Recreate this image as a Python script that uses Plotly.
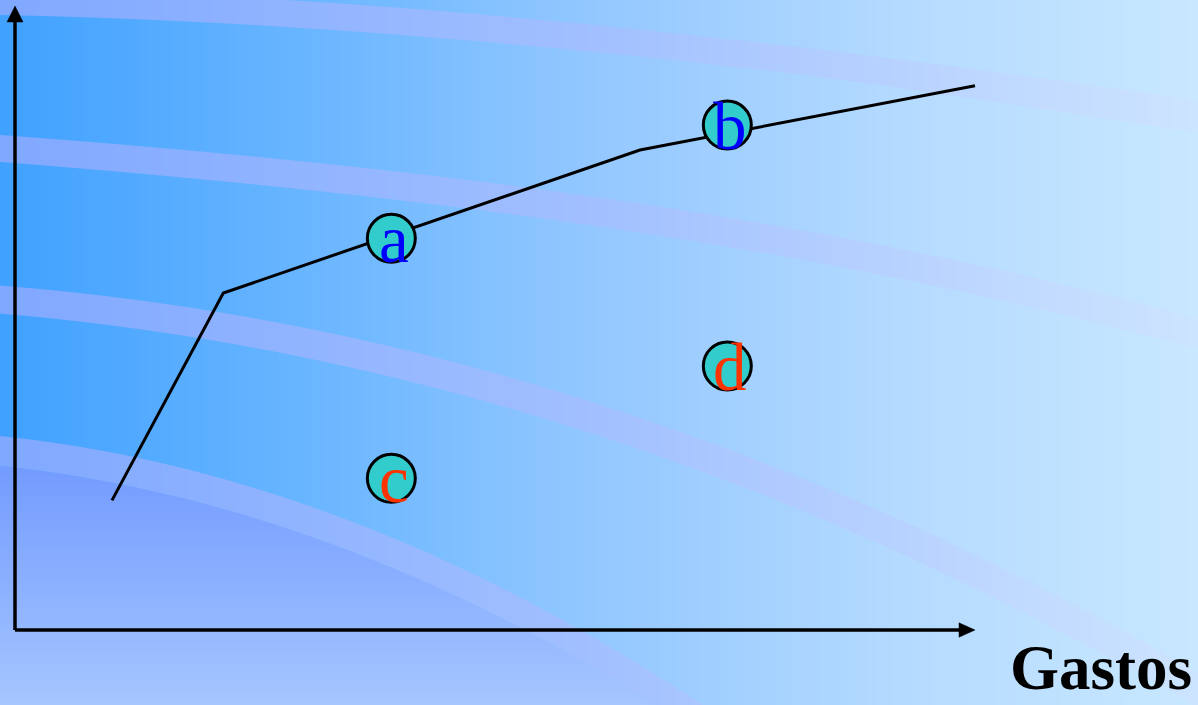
import base64
import struct
import zlib

import numpy as np
import plotly.graph_objects as go

W, H = 1198, 705

# Curve of results against spending (kink points)
curve_x = [1.01, 2.17, 6.51, 10.0]
curve_y = [1.35, 3.51, 5.0, 5.67]

# Labelled situations
point_labels = ["a", "b", "c", "d"]
point_x = [3.92, 7.42, 3.92, 7.42]
point_y = [4.08, 5.26, 1.58, 2.75]
label_colors = ["#0000ff", "#0000ff", "#ff3300", "#ff3300"]

axis_title = "Gastos"

# ---- axis frame: 96 px per unit, origin 15 px from left, 75 px from bottom
PX = 96.0
X_RANGE = [-15 / PX, (W - 15) / PX]
Y_RANGE = [-(H - 630) / PX, 630 / PX]


# ---- decorative background (horizontal gradient with soft curved bands)
def background_uri():
    xs = np.arange(W, dtype=float)
    ys = np.arange(H, dtype=float)[:, None]

    def ramp(px, vals):
        return np.interp(xs, px, vals)

    def edge(px, py, deg=3):
        return np.polyval(np.polyfit(px, py, deg), xs)

    img = np.zeros((H, W, 3))
    img[..., 0] = ramp([0, 300, 600, 900, 1197], [64, 104, 148, 180, 200])
    img[..., 1] = ramp([0, 300, 600, 900, 1197], [161, 181, 200, 218, 232])
    img[..., 2] = 255

    band = np.stack([ramp([0, 600, 1197], [128, 162, 205]),
                     ramp([0, 600, 1197], [168, 192, 228]),
                     np.full(W, 255.0)], axis=-1)[None, :, :]

    def cover(top, bottom):
        a = np.clip(np.minimum(ys + 1, bottom[None, :]) - np.maximum(ys, top[None, :]), 0, 1)
        return a[..., None]

    def paint(top, thick, color):
        nonlocal img
        bottom = top + thick
        c = cover(top, bottom)
        img = img * (1 - c) + color * c

    paint(edge([0, 400, 800, 900, 1197], [-12, 8, 47, 60, 100]),
          ramp([0, 800, 1197], [27, 27, 33]), band)
    paint(edge([0, 400, 800, 1197], [135, 172, 230, 318]),
          ramp([0, 1197], [27, 31]), band)
    paint(edge([0, 80, 260, 400, 733, 900, 1000, 1197],
               [285, 293, 320, 352, 443, 522, 573, 670]),
          ramp([0, 1197], [28, 35]), band)

    top4 = edge([0, 80, 260, 400, 550, 700], [435, 448, 490, 543, 610, 705], 2)
    low4 = top4 + 30
    region = np.zeros((H, W, 3))
    t = np.clip((ys - 470) / (705 - 470), 0, 1)
    region[..., 0] = 116 + t * (165 - 116)
    region[..., 1] = 156 + t * (198 - 156)
    region[..., 2] = 255
    c = np.clip(ys + 1 - low4[None, :], 0, 1)[..., None]
    img = img * (1 - c) + region * c
    paint(top4, np.full(W, 30.0), band)

    arr = np.clip(np.round(img), 0, 255).astype(np.uint8)
    raw = b"".join(b"\x00" + arr[i].tobytes() for i in range(H))

    def chunk(tag, data):
        return (struct.pack(">I", len(data)) + tag + data
                + struct.pack(">I", zlib.crc32(tag + data) & 0xFFFFFFFF))

    png = (b"\x89PNG\r\n\x1a\n"
           + chunk(b"IHDR", struct.pack(">IIBBBBB", W, H, 8, 2, 0, 0, 0))
           + chunk(b"IDAT", zlib.compress(raw, 9))
           + chunk(b"IEND", b""))
    return "data:image/png;base64," + base64.b64encode(png).decode()


fig = go.Figure()

fig.add_trace(go.Scatter(
    x=curve_x, y=curve_y, mode="lines",
    line=dict(color="black", width=3),
    hoverinfo="skip", showlegend=False,
))

fig.add_trace(go.Scatter(
    x=point_x, y=point_y, mode="markers",
    marker=dict(size=48, color="#33cccc", line=dict(color="black", width=3)),
    hoverinfo="skip", showlegend=False,
))

for lab, px, py, col in zip(point_labels, point_x, point_y, label_colors):
    fig.add_annotation(
        x=px, y=py, text=lab, showarrow=False,
        xanchor="center", yanchor="middle", xshift=3, yshift=-1,
        font=dict(family="Liberation Serif", size=67, color=col),
    )

# axes with arrow heads
x_tip, y_tip = (975 - 15) / PX, (630 - 6) / PX
head = 16 / PX
half = 8 / PX
fig.add_shape(type="line", x0=0, y0=0, x1=0, y1=y_tip - head + 0.02,
              line=dict(color="black", width=3.5))
fig.add_shape(type="line", x0=0, y0=0, x1=x_tip - head + 0.02, y1=0,
              line=dict(color="black", width=3.5))
fig.add_shape(type="path",
              path=f"M {-half} {y_tip - head} L 0 {y_tip} L {half} {y_tip - head} Z",
              fillcolor="black", line=dict(color="black", width=0.5))
fig.add_shape(type="path",
              path=f"M {x_tip - head} {-half * 0.9} L {x_tip} 0 L {x_tip - head} {half * 0.9} Z",
              fillcolor="black", line=dict(color="black", width=0.5))

fig.add_annotation(
    xref="paper", yref="paper", x=1194 / W, y=0,
    text="<b>" + axis_title + "</b>", showarrow=False,
    xanchor="right", yanchor="bottom",
    font=dict(family="Liberation Serif", size=63, color="black"),
)

fig.add_layout_image(dict(
    source=background_uri(), xref="paper", yref="paper",
    x=0, y=1, sizex=1, sizey=1, sizing="stretch",
    xanchor="left", yanchor="top", layer="below",
))

fig.update_layout(
    width=W, height=H,
    margin=dict(l=0, r=0, t=0, b=0),
    paper_bgcolor="#8ec4ff", plot_bgcolor="rgba(0,0,0,0)",
    xaxis=dict(range=X_RANGE, visible=False, fixedrange=True),
    yaxis=dict(range=Y_RANGE, visible=False, fixedrange=True),
    showlegend=False,
)

fig.write_html("out.html", config={"displayModeBar": False})
